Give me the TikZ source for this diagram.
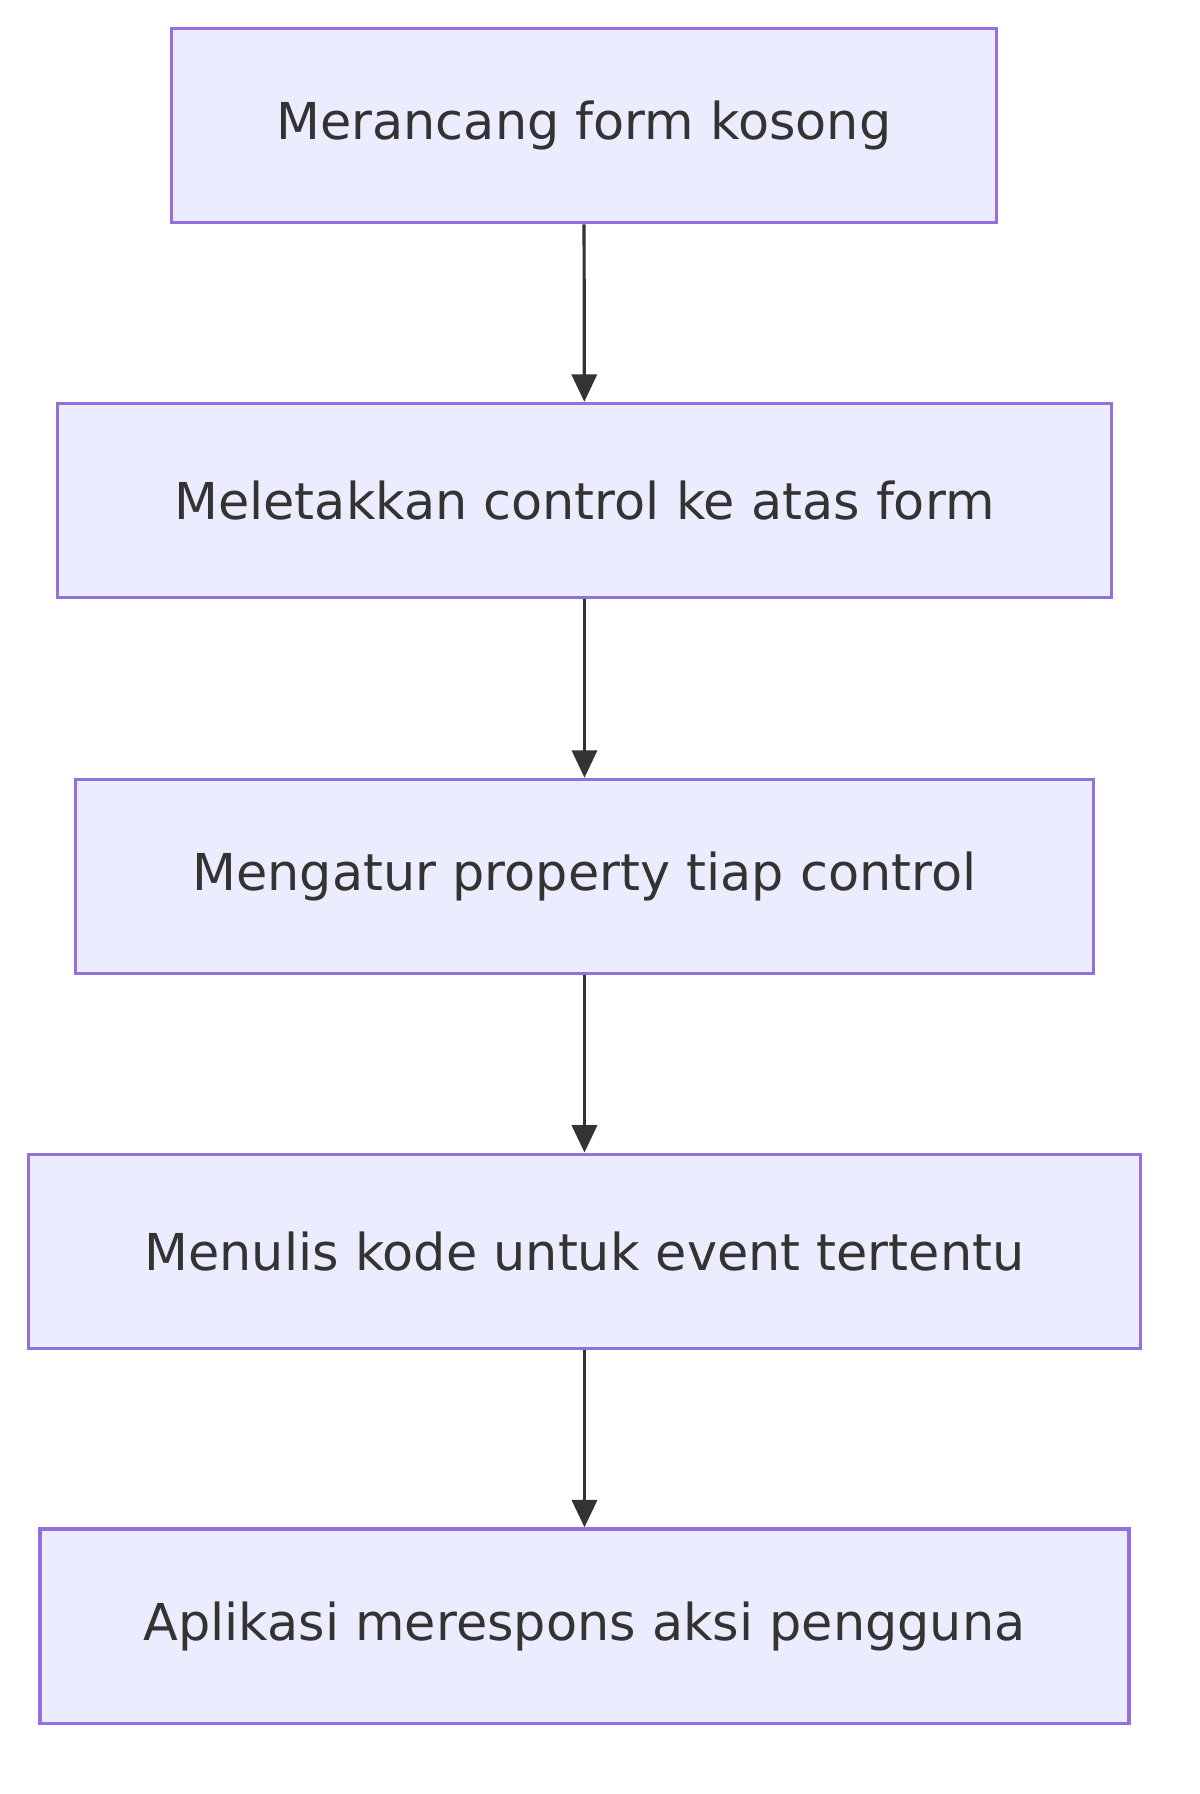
\documentclass[tikz,border=0pt]{standalone}
\usepackage{fontspec}
\setmainfont{DejaVu Sans}
\usetikzlibrary{arrows.meta}
\definecolor{bfill}{HTML}{ECECFF}
\definecolor{bline}{HTML}{9370DB}
\definecolor{aline}{HTML}{333333}
\begin{document}
\begin{tikzpicture}[x=1pt,y=-1pt,
  box/.style={draw=bline,fill=bfill,line width=2.8pt,inner sep=0pt,text=aline,
    font=\fontsize{44.5}{48}\selectfont},
  arr/.style={draw=aline,line width=2.8pt,-{Triangle[length=24pt,width=22pt]}}]
\useasboundingbox (0,0) rectangle (1050,1570);
\node[box,minimum width=722pt,minimum height=170pt] (a) at (511,110) {Merancang form kosong};
\node[box,minimum width=923pt,minimum height=170pt] (b) at (511.5,438) {Meletakkan control ke atas form};
\node[box,minimum width=891pt,minimum height=170pt] (c) at (511.5,767) {Mengatur property tiap control};
\node[box,minimum width=973pt,minimum height=170pt] (d) at (511.5,1095) {Menulis kode untuk event tertentu};
\node[box,minimum width=953pt,minimum height=170pt] (e) at (511.5,1423) {Aplikasi merespons aksi pengguna};
\draw[arr] (a) -- (b);
\draw[arr] (b) -- (c);
\draw[arr] (c) -- (d);
\draw[arr] (d) -- (e);
\end{tikzpicture}
\end{document}
